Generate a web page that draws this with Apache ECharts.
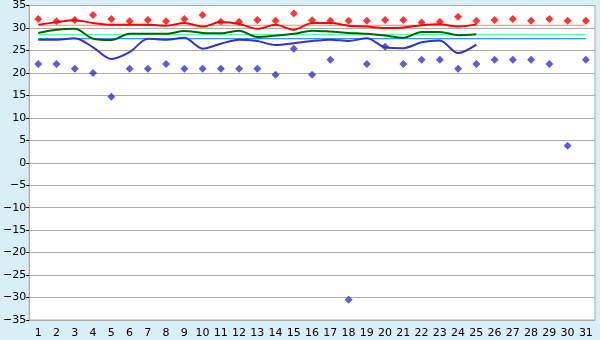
<!DOCTYPE html>
<html>
<head>
<meta charset="utf-8">
<script src="https://cdn.jsdelivr.net/npm/echarts@6/dist/echarts.min.js"></script>
<style>
  html, body { margin: 0; padding: 0; background: #d9eff6; }
  #chart { width: 600px; height: 340px; }
</style>
</head>
<body>
<div id="chart"></div>
<script>
// days of the month
var days = [];
for (var d = 1; d <= 31; d++) days.push(String(d));

// daily highs / lows (diamonds)
var highPoints = [32.0, 31.5, 31.8, 32.9, 32.0, 31.5, 31.8, 31.5, 32.0, 32.9, 31.4, 31.4, 31.8, 31.6, 33.2, 31.7,
                  31.6, 31.6, 31.6, 31.8, 31.8, 31.2, 31.4, 32.5, 31.6, 31.8, 32.0, 31.6, 32.0, 31.6, 31.6];
var lowPoints = [22.0, 22.0, 20.9, 20.0, 14.7, 20.9, 20.9, 22.0, 20.9, 20.9, 20.9, 20.9, 20.9, 19.6, 25.4, 19.6,
                 22.9, -30.5, 22.0, 25.8, 22.0, 22.9, 22.9, 20.9, 22.0, 22.9, 22.9, 22.9, 22.0, 3.8, 22.9];

// running curves (days 1-25)
var highLine = [30.7, 31.3, 31.7, 31.1, 30.7, 30.7, 30.7, 30.5, 31.1, 30.3, 31.3, 30.9, 29.8, 30.7, 29.6, 31.1,
                31.1, 30.5, 30.3, 30.0, 30.1, 30.6, 30.8, 30.3, 30.8];
var midLine = [28.9, 29.6, 29.8, 27.6, 27.3, 28.7, 28.7, 28.7, 29.3, 28.9, 28.8, 29.4, 28.0, 28.3, 28.7, 29.4,
               29.2, 28.9, 28.7, 28.3, 27.8, 29.1, 29.1, 28.4, 28.6];
var lowLine = [27.4, 27.4, 27.7, 25.7, 23.1, 24.6, 27.6, 27.4, 27.8, 25.4, 26.5, 27.4, 27.1, 26.2, 26.6, 27.1,
               27.4, 27.1, 27.7, 25.7, 25.5, 26.8, 27.2, 24.4, 26.3];

// flat reference levels
var refHigh = 30.6;
var refMid = 28.5;
var refLow = 27.6;

var chart = echarts.init(document.getElementById('chart'));

function flat(v) {
  return [[days[0], v], [days[days.length - 1], v]];
}

function refSeries(v, color) {
  return {
    type: 'line', data: flat(v), symbol: 'none', silent: true,
    lineStyle: { color: color, width: 1 }
  };
}

function curve(data, color) {
  return {
    type: 'line', data: data, symbol: 'none', smooth: 0.3,
    lineStyle: { color: color, width: 2 }
  };
}

function dots(data, color) {
  return {
    type: 'scatter', data: data, symbol: 'diamond', symbolSize: 8,
    itemStyle: { color: color }
  };
}

var labelFont = { color: '#000', fontFamily: 'DejaVu Sans', fontSize: 11 };

chart.setOption({
  backgroundColor: '#d9eff6',
  animation: false,
  grid: {
    left: 26, right: 5, top: 5, bottom: 20,
    show: true, backgroundColor: '#fff', borderColor: '#aaa', borderWidth: 1
  },
  xAxis: {
    type: 'category',
    data: days,
    boundaryGap: true,
    axisLine: { lineStyle: { color: '#aaa' } },
    axisTick: { alignWithLabel: true, interval: 0, length: 5, lineStyle: { color: '#000' } },
    axisLabel: Object.assign({ interval: 0, margin: 8 }, labelFont),
    splitLine: { show: false }
  },
  yAxis: {
    type: 'value',
    min: -35, max: 35, interval: 5,
    axisLine: { show: true, lineStyle: { color: '#aaa' } },
    axisTick: { show: true, length: 3, lineStyle: { color: '#000' } },
    axisLabel: Object.assign({
      margin: 3,
      formatter: function (v) { return String(v).replace('-', '\u2212'); }
    }, labelFont),
    splitLine: { lineStyle: { color: '#aaa', width: 1 } }
  },
  series: [
    refSeries(refHigh, '#ff8080'),
    refSeries(refMid, '#33ff99'),
    refSeries(refLow, '#0070ff'),
    curve(highLine, '#ff0000'),
    curve(midLine, '#006600'),
    curve(lowLine, '#3333cc'),
    dots(highPoints, '#ff0000'),
    dots(lowPoints, '#3333cc')
  ]
});
</script>
</body>
</html>
